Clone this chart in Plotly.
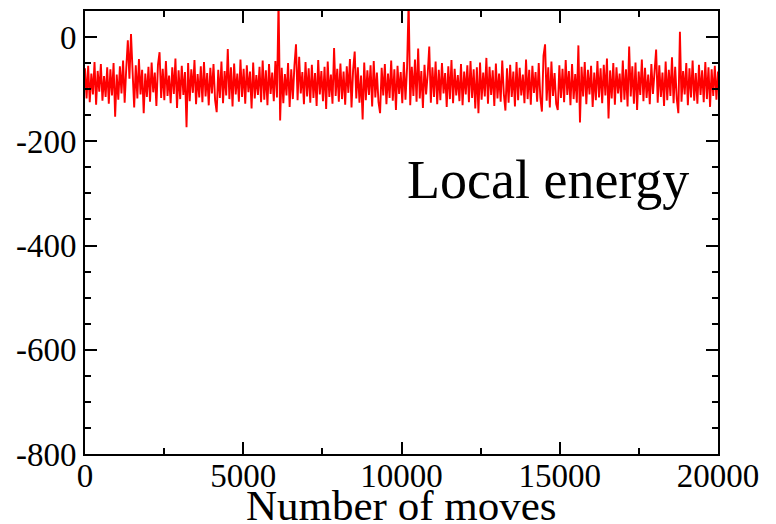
import numpy as np
import plotly.graph_objects as go

# Local energy values (approximate, downsampled)
energy = [
    -60,-118,-55,-125,-70,-110,-48,-130,-65,-105,-52,-122,-75,-115,-58,-128,-62,-112,-50,-153,
    -72,-120,-56,-108,-45,-126,-60,-6,-80,6,-66,-135,-54,-118,-42,-110,-63,-146,-70,-115,
    -57,-124,-49,-106,-68,-132,-53,-29,-117,-61,-121,-46,-113,-74,-127,-58,-109,-41,-136,-64,
    -119,-55,-111,-67,-173,-50,-123,-62,-107,-44,-129,-71,-116,-56,-125,-48,-114,-69,-131,-59,
    -108,-52,-121,-144,-63,-117,-47,-127,-65,-112,-23,-119,-58,-133,-51,-110,-70,-124,-43,-115,
    -61,-128,-54,-106,-66,-137,-49,-118,-73,-111,-57,-125,-45,-120,-64,-131,-52,-109,-68,-123,
    -46,-116,70,-160,-59,-127,-71,-112,-50,-134,-62,-119,-55,-14,-121,-38,-108,-67,-129,-48,
    -114,-60,-126,-53,-117,-69,-132,-44,-110,-65,-123,-57,-138,-47,-115,-72,-128,-21,-113,-61,
    -124,-51,-119,-66,-130,-56,-107,-42,-135,-63,-28,-118,-58,-126,-74,-158,-49,-121,-64,-111,
    -54,-133,-46,-116,-68,-125,-146,-59,-112,-52,-129,-70,-117,-45,-122,-62,-140,-55,-109,-67,
    -127,-48,-120,-60,70,-131,-57,-113,-43,-124,-22,-118,-65,-136,-53,-110,-71,-18,-126,-58,
    -115,-47,-129,-63,-121,-50,-108,-69,-134,-56,-119,-44,-127,-61,-112,-73,-123,-52,-131,-66,
    -110,-54,-125,-46,-117,-62,-137,-58,-146,-49,-120,-68,-114,-40,-128,-57,-111,-64,-132,-51,
    -118,-70,-124,-45,-109,-141,-60,-126,-53,-115,-66,-133,-48,-121,-59,-112,-72,-127,-43,-119,
    -63,-130,-55,-107,-67,-124,-50,-116,-143,-36,-14,-122,-58,-135,-47,-113,-69,-128,-140,-54,
    -117,-61,-125,-44,-111,-65,-131,-52,-119,-71,-126,-16,-164,-57,-114,-48,-129,-63,-110,-55,
    -134,-68,-121,-46,-116,-60,-127,-53,-112,-41,-156,-64,-118,-50,-130,-58,-108,-70,-125,-45,
    -120,-62,-133,-18,-114,-56,-128,-49,-140,-66,-111,-43,-123,-59,-117,-72,-129,-52,-109,-61,
    -24,-126,-54,-115,-68,-132,-47,-121,-63,-113,-39,-127,-57,-118,-146,10,-124,-65,-110,-50,
    -131,-60,-116,-45,-122,-69,-128,-53,-111,-64,-125,-48,-119,-58,-134,-62,-113,-55,-120,-66,
]
moves = np.linspace(0, 20000, len(energy))

x_ticks = [0, 5000, 10000, 15000, 20000]
x_tick_text = ["0", "5000", "10000", "15000", "20000"]
y_ticks = [-800, -600, -400, -200, 0]
y_tick_text = ["-800", "-600", "-400", "-200", "0"]
label_text = "Local energy"
x_title = "Number of moves"

FONT = "Liberation Serif, Times New Roman, serif"

fig = go.Figure()
fig.add_trace(go.Scatter(x=moves, y=energy, mode="lines",
                         line=dict(color="#ff0000", width=1.9), showlegend=False))

axis_common = dict(
    showgrid=False, zeroline=False, showline=True, linecolor="black", linewidth=2,
    mirror="allticks", ticks="inside", ticklen=12, tickwidth=1.5, tickcolor="black",
    tickfont=dict(family=FONT, size=33, color="black"), automargin=False,
)
fig.update_xaxes(range=[0, 20000], tickvals=x_ticks, ticktext=x_tick_text,
                 ticklabelstandoff=-9,
                 minor=dict(dtick=2500, tick0=0, ticks="inside", ticklen=6, tickwidth=1.5, tickcolor="black"),
                 **axis_common)
fig.update_yaxes(range=[-800, 50], tickvals=y_ticks, ticktext=y_tick_text,
                 minor=dict(dtick=50, tick0=0, ticks="inside", ticklen=6, tickwidth=1.5, tickcolor="black"),
                 **axis_common)

fig.add_annotation(x=(405 - 85) / (776 - 85 - 58), y=1 - (180 - 11) / (524 - 11 - 70),
                   xref="paper", yref="paper",
                   text=label_text, showarrow=False, xanchor="left", yanchor="middle",
                   font=dict(family=FONT, size=54, color="black"))

fig.add_annotation(x=0.5, y=0, xref="paper", yref="paper", yanchor="top",
                   yshift=-26, text=x_title, showarrow=False,
                   font=dict(family=FONT, size=43, color="black"))

fig.update_layout(width=776, height=524, margin=dict(l=85, r=58, t=11, b=70),
                  plot_bgcolor="white", paper_bgcolor="white")
fig.write_html("out.html", config={"displayModeBar": False},
               post_script="document.body.style.margin='0';")
